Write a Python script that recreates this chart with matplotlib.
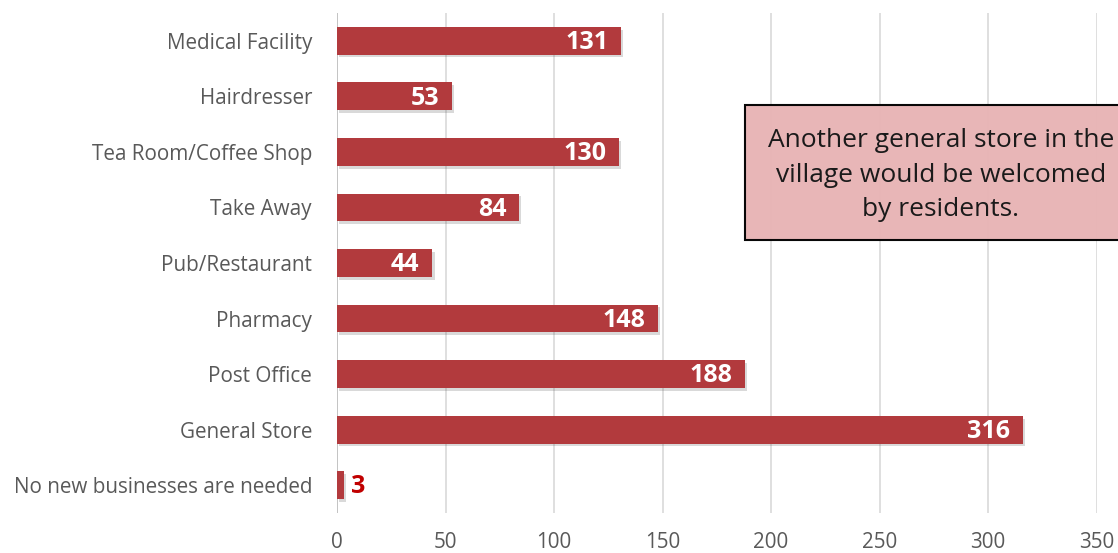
import matplotlib.pyplot as plt
import matplotlib.patheffects as pe
from matplotlib.patches import Rectangle

plt.rcParams['font.family'] = ['Open Sans', 'DejaVu Sans']

categories = ['No new businesses are needed', 'General Store', 'Post Office',
              'Pharmacy', 'Pub/Restaurant', 'Take Away', 'Tea Room/Coffee Shop',
              'Hairdresser', 'Medical Facility']
counts = [3, 316, 188, 148, 44, 84, 130, 53, 131]
xticks = [0, 50, 100, 150, 200, 250, 300, 350]
note = 'Another general store in the\nvillage would be welcomed\nby residents.'

fig = plt.figure(figsize=(11.18, 5.53), dpi=100)
ax = fig.add_axes([337 / 1118, 40 / 553, (1096.5 - 337) / 1118, 500 / 553])

bar_color = '#B23A3D'
ypos = range(len(categories))
bars = ax.barh(ypos, counts, height=0.5, color=bar_color, zorder=3)
for b in bars:
    b.set_path_effects([pe.SimplePatchShadow(offset=(1.5, -2), alpha=0.22, shadow_rgbFace='#555555'),
                        pe.Normal()])

# value labels: inside the bar end, or outside when the bar is too short
for y, v in zip(ypos, counts):
    if v < 20:
        ax.text(v + 3.5, y - 0.03, str(v), va='center', ha='left', color='#C00000',
                fontsize=18, fontweight='bold', zorder=4)
    else:
        ax.text(v - 6, y - 0.03, str(v), va='center', ha='right', color='white',
                fontsize=18, fontweight='bold', zorder=4)

ax.set_xlim(0, 350)
ax.set_ylim(-0.5, len(categories) - 0.5)
ax.set_xticks(xticks)
ax.set_yticks(list(ypos))
ax.set_yticklabels(categories)
ax.tick_params(axis='both', length=0, labelsize=14.9, labelcolor='#595959')
ax.tick_params(axis='x', pad=13.5)
ax.tick_params(axis='y', pad=18)
ax.xaxis.grid(True, color='#D9D9D9', linewidth=1.2, zorder=0)
for s in ax.spines.values():
    s.set_visible(False)
ax.axvline(0, color='#BFBFBF', linewidth=1.2, zorder=2)

# callout box (runs off the right edge)
box = Rectangle((745 / 1118, 1 - 240 / 553), 400 / 1118, 135 / 553,
                transform=fig.transFigure, facecolor='#E8B4B5', edgecolor='black',
                linewidth=1.5, alpha=0.97, zorder=5)
fig.patches.append(box)
fig.text(941 / 1118, 1 - 175 / 553, note, ha='center', va='center',
         fontsize=19, color='#1A1A1A', linespacing=1.48, zorder=6)

fig.savefig('out.png', dpi=100)
